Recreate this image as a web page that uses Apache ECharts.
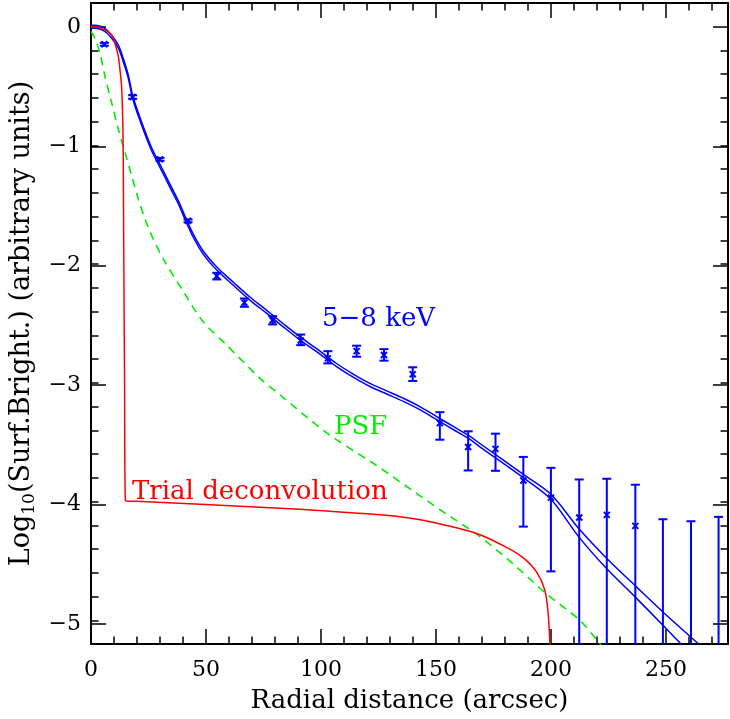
<!DOCTYPE html>
<html>
<head>
<meta charset="utf-8">
<script src="https://cdn.jsdelivr.net/npm/echarts@6/dist/echarts.min.js"></script>
<style>
html,body{margin:0;padding:0;background:#fff;}
#chart{width:730px;height:719px;}
</style>
</head>
<body>
<div id="chart"></div>
<script>
// ---- data points (5-8 keV profile) ----
const ptX = [5.8, 18.1, 30.0, 42.2, 54.7, 66.7, 79.0, 91.2, 103.0, 115.5, 127.4, 139.9, 151.7, 164.0, 175.9, 188.0, 200.0, 212.3, 224.3, 236.7, 248.7, 260.9, 272.9];
const ptY = [-0.148, -0.592, -1.117, -1.635, -2.101, -2.324, -2.473, -2.643, -2.794, -2.733, -2.766, -2.928, -3.339, -3.540, -3.556, -3.822, -3.967, -4.135, -4.112, -4.205, null, null, null];
const ptHi = [-0.136, -0.577, -1.105, -1.623, -2.073, -2.289, -2.438, -2.593, -2.733, -2.687, -2.716, -2.869, -3.247, -3.408, -3.428, -3.624, -3.716, -3.814, -3.808, -3.858, -4.149, -4.166, -4.129];
const ptLo = [-0.160, -0.607, -1.129, -1.647, -2.129, -2.359, -2.508, -2.682, -2.836, -2.780, -2.813, -2.984, -3.479, -3.738, -3.741, -4.211, -4.588, null, null, null, null, null, null];

// ---- model (5-8 keV), common part of the two envelope lines ----
const modelX = [0, 1.7, 6.1, 9.0, 11.9, 14.0, 16.2, 18.1, 20.6, 23.5, 26.4, 29.3, 32.2, 35.1, 38.0, 40.9, 44.3, 48.7, 54.8, 61.9, 69.1, 76.4, 83.6, 90.9, 98.1, 106.8, 114.0, 121.3, 128.6, 135.8, 143.0, 150.3, 157.5, 164.8];
const modelY = [0, 0, -0.028, -0.084, -0.168, -0.279, -0.419, -0.592, -0.740, -0.894, -1.034, -1.145, -1.257, -1.369, -1.480, -1.610, -1.754, -1.900, -2.039, -2.165, -2.290, -2.402, -2.515, -2.626, -2.724, -2.850, -2.939, -3.018, -3.081, -3.143, -3.213, -3.297, -3.380, -3.464];
const envHalf = 0.013;
// outer parts where the two lines separate
const upperTailX = [169.1, 188.0, 200.0, 212.3, 224.3, 236.7, 248.7, 264.8, 270];
const upperTailY = [-3.511, -3.771, -3.939, -4.232, -4.480, -4.710, -4.930, -5.21, -5.30];
const lowerTailX = [169.1, 188.0, 200.0, 212.3, 224.3, 236.7, 248.7, 257.1, 262];
const lowerTailY = [-3.539, -3.799, -3.981, -4.302, -4.567, -4.805, -5.042, -5.21, -5.30];

// ---- PSF ----
const psfX = [0, 1.7, 3.9, 6.1, 9.0, 11.9, 14.8, 17.7, 20.6, 23.5, 26.4, 31.4, 40.3, 48.8, 59.0, 73.5, 82.2, 102.5, 121.3, 125.7, 140.1, 154.7, 167.7, 183.6, 198.1, 212.6, 221.3, 223.0];
const psfY = [-0.04, -0.097, -0.223, -0.419, -0.642, -0.866, -1.061, -1.257, -1.453, -1.620, -1.760, -1.955, -2.235, -2.486, -2.682, -2.962, -3.101, -3.422, -3.660, -3.716, -3.911, -4.107, -4.275, -4.526, -4.778, -5.001, -5.197, -5.24];

// ---- trial deconvolution ----
const trialX = [0, 1.7, 6.1, 9.0, 10.4, 11.9, 12.6, 13.3, 13.8, 14.0, 14.2, 14.6, 15.0, 20.0, 47.4, 90.9, 125.7, 134.3, 147.4, 167.7, 180.7, 188.0, 193.8, 197.4, 198.8, 199.6, 199.8];
const trialY = [0, 0, -0.028, -0.070, -0.139, -0.251, -0.363, -0.503, -0.782, -1.061, -1.746, -3.0, -3.995, -3.998, -4.023, -4.065, -4.112, -4.128, -4.170, -4.269, -4.386, -4.475, -4.595, -4.750, -4.945, -5.20, -5.30];

// ---- axes ----
const xMin = 0, xMax = 277, xStep = 50;
const yMin = -5.2, yMax = 0.2, yMinorStep = 0.2;
const yMajorMin = -5, yMajorMax = 0, yMajorStep = 1;
const xTitle = 'Radial distance (arcsec)';
const labelKeV = '5\u22128 keV';
const labelPSF = 'PSF';
const labelTrial = 'Trial deconvolution';

const BLUE = '#0000ff', GREEN = '#00ee00', RED = '#ff0000';
const FONT = 'DejaVu Serif';

const W = 730, H = 719;
const G = { left: 91, right: 2, top: 3, bottom: 71 };
const plotH = H - G.top - G.bottom;
const pxPerY = plotH / (yMax - yMin);
const majorTop = G.top + (yMax - yMajorMax) * pxPerY;
const majorBottom = H - (G.top + (yMax - yMajorMin) * pxPerY);

const zip = (xs, ys) => xs.map((x, i) => [x, ys[i]]);
const upperData = zip(modelX, modelY.map(v => v + envHalf)).concat(zip(upperTailX, upperTailY));
const lowerData = zip(modelX, modelY.map(v => v - envHalf)).concat(zip(lowerTailX, lowerTailY));

const isInt = v => Math.abs(v - Math.round(v)) < 1e-6;
const fmtY = v => isInt(v) ? (Math.round(v) < 0 ? '\u2212' + (-Math.round(v)) : String(Math.round(v))) : '';
const fmtX = v => (isInt(v) && Math.round(v) % 50 === 0) ? String(Math.round(v)) : '';

const tickStyle = { color: '#000', width: 1.5 };
const axisLineStyle = { color: '#000', width: 2 };

const chart = echarts.init(document.getElementById('chart'), null, { renderer: 'canvas' });
chart.setOption({
  animation: false,
  backgroundColor: '#ffffff',
  grid: [
    { left: G.left, right: G.right, top: G.top, bottom: G.bottom, containLabel: false },
    { left: G.left, right: G.right, top: majorTop, bottom: majorBottom, containLabel: false }
  ],
  xAxis: [
    {
      type: 'value', gridIndex: 0, position: 'bottom', min: xMin, max: xMax, interval: xStep,
      splitLine: { show: false },
      axisLine: { show: true, onZero: false, lineStyle: axisLineStyle },
      axisTick: { show: true, inside: true, length: 15, lineStyle: tickStyle },
      minorTick: { show: true, splitNumber: 5, length: 7.5, lineStyle: tickStyle },
      axisLabel: { show: true, formatter: fmtX, fontFamily: FONT, fontSize: 22, color: '#000', margin: 15, showMaxLabel: false },
      name: xTitle, nameLocation: 'middle', nameGap: 44,
      nameTextStyle: { fontFamily: FONT, fontSize: 26, color: '#000' }
    },
    {
      type: 'value', gridIndex: 0, position: 'top', min: xMin, max: xMax, interval: xStep,
      splitLine: { show: false },
      axisLine: { show: true, onZero: false, lineStyle: axisLineStyle },
      axisTick: { show: true, inside: true, length: 15, lineStyle: tickStyle },
      minorTick: { show: true, splitNumber: 5, length: 7.5, lineStyle: tickStyle },
      axisLabel: { show: false }
    },
    { type: 'value', gridIndex: 1, min: xMin, max: xMax, show: false }
  ],
  yAxis: [
    {
      type: 'value', gridIndex: 0, position: 'left', min: yMin, max: yMax, interval: yMinorStep,
      splitLine: { show: false },
      axisLine: { show: true, onZero: false, lineStyle: axisLineStyle },
      axisTick: { show: true, inside: true, length: 7.5, lineStyle: tickStyle },
      axisLabel: { show: false },
      name: '{n|Log}{s|10}{n|(Surf.Bright.) (arbitrary units)}',
      nameLocation: 'middle', nameGap: 53,
      nameTextStyle: {
        fontFamily: FONT, fontSize: 27, color: '#000',
        rich: {
          n: { fontFamily: FONT, fontSize: 27, color: '#000', lineHeight: 32, verticalAlign: 'middle' },
          s: { fontFamily: FONT, fontSize: 17, color: '#000', lineHeight: 16, verticalAlign: 'bottom' }
        }
      }
    },
    {
      type: 'value', gridIndex: 0, position: 'right', min: yMin, max: yMax, interval: yMinorStep,
      splitLine: { show: false },
      axisLine: { show: true, onZero: false, lineStyle: axisLineStyle },
      axisTick: { show: true, inside: true, length: 7.5, lineStyle: tickStyle },
      axisLabel: { show: false }
    },
    {
      type: 'value', gridIndex: 1, position: 'left', min: yMajorMin, max: yMajorMax, interval: yMajorStep,
      splitLine: { show: false },
      axisLine: { show: false },
      axisTick: { show: true, inside: true, length: 15, lineStyle: tickStyle },
      axisLabel: { show: true, formatter: fmtY, fontFamily: FONT, fontSize: 22, color: '#000', margin: 10 }
    },
    {
      type: 'value', gridIndex: 1, position: 'right', min: yMajorMin, max: yMajorMax, interval: yMajorStep,
      splitLine: { show: false },
      axisLine: { show: false },
      axisTick: { show: true, inside: true, length: 15, lineStyle: tickStyle },
      axisLabel: { show: false }
    }
  ],
  series: [
    { type: 'line', data: upperData, showSymbol: false, clip: true, silent: true, smooth: 0.3,
      lineStyle: { color: BLUE, width: 1.5 }, itemStyle: { color: BLUE } },
    { type: 'line', data: lowerData, showSymbol: false, clip: true, silent: true, smooth: 0.3,
      lineStyle: { color: BLUE, width: 1.5 }, itemStyle: { color: BLUE } },
    { type: 'line', data: zip(psfX, psfY), showSymbol: false, clip: true, silent: true, smooth: 0.3,
      lineStyle: { color: GREEN, width: 1.6, type: [8, 6] }, itemStyle: { color: GREEN } },
    { type: 'line', data: zip(trialX, trialY), showSymbol: false, clip: true, silent: true, smooth: 0.3,
      lineStyle: { color: RED, width: 1.5 }, itemStyle: { color: RED } },
    {
      type: 'custom', clip: true, silent: true,
      data: ptX.map((x, i) => [x, ptHi[i], i]),
      encode: { x: 0, y: 1 },
      renderItem: function (params, api) {
        const i = api.value(2);
        const x = ptX[i];
        const hi = ptHi[i];
        const lo = ptLo[i] === null ? yMin - 0.5 : ptLo[i];
        const pHi = api.coord([x, hi]);
        const pLo = api.coord([x, lo]);
        const st = { stroke: BLUE, lineWidth: 2 };
        const ch = [
          { type: 'line', shape: { x1: pHi[0], y1: pHi[1], x2: pLo[0], y2: pLo[1] }, style: st },
          { type: 'line', shape: { x1: pHi[0] - 4.5, y1: pHi[1], x2: pHi[0] + 4.5, y2: pHi[1] }, style: st }
        ];
        if (ptLo[i] !== null) {
          ch.push({ type: 'line', shape: { x1: pLo[0] - 4.5, y1: pLo[1], x2: pLo[0] + 4.5, y2: pLo[1] }, style: st });
        }
        if (ptY[i] !== null) {
          const p = api.coord([x, ptY[i]]);
          const d = 3;
          ch.push({ type: 'line', shape: { x1: p[0] - d, y1: p[1] - d, x2: p[0] + d, y2: p[1] + d }, style: st });
          ch.push({ type: 'line', shape: { x1: p[0] - d, y1: p[1] + d, x2: p[0] + d, y2: p[1] - d }, style: st });
        }
        return { type: 'group', children: ch };
      }
    }
  ],
  graphic: [
    { type: 'text', left: 322, top: 306, style: { text: labelKeV, fill: BLUE, font: '26px "DejaVu Serif"' } },
    { type: 'text', left: 334, top: 414, style: { text: labelPSF, fill: GREEN, font: '26px "DejaVu Serif"' } },
    { type: 'text', left: 132, top: 479, style: { text: labelTrial, fill: RED, font: '26px "DejaVu Serif"' } }
  ]
});
</script>
</body>
</html>
